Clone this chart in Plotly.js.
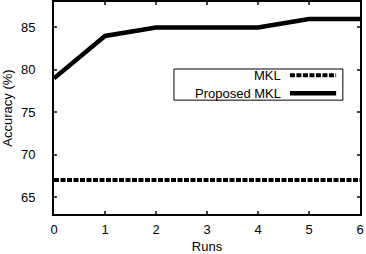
<!DOCTYPE html>
<html><head><meta charset="utf-8">
<script src="https://cdn.plot.ly/plotly-3.0.1.min.js"></script>
<style>html,body{margin:0;padding:0;background:#fff}#c{width:366px;height:254px}</style>
</head><body><div id="c"></div>
<script>
const runs = [0, 1, 2, 3, 4, 5, 6];
const mkl = [67, 67, 67, 67, 67, 67, 67];
const proposed = [79, 84, 85, 85, 85, 86, 86];
const seriesNames = ["MKL", "Proposed MKL"];
const xTicks = [0, 1, 2, 3, 4, 5, 6];
const yTicks = [65, 70, 75, 80, 85];

const F = "Liberation Sans, Arial, Helvetica, sans-serif";
const traces = [
  {x: runs, y: mkl, mode: "lines", name: seriesNames[0],
   line: {color: "#000", width: 4, dash: "5px,1.5px"}, cliponaxis: true},
  {x: runs, y: proposed, mode: "lines", name: seriesNames[1],
   line: {color: "#000", width: 4.5}, cliponaxis: true}
];
// custom gnuplot-style legend (text left, sample right)
const lgX0 = 0.392, lgX1 = 0.944, lgY0 = 0.537, lgY1 = 0.684;
const sx0 = 0.771, sx1 = 0.922, textX = 0.748;
const rowY = [0.655, 0.57];
const shapes = [
  {type: "rect", xref: "paper", yref: "paper", x0: lgX0, x1: lgX1, y0: lgY0, y1: lgY1,
   line: {color: "#000", width: 1}, fillcolor: "#fff", layer: "above"}
];
const annotations = [];
traces.forEach((t, i) => {
  shapes.push({type: "line", xref: "paper", yref: "paper", x0: sx0, x1: sx1, y0: rowY[i], y1: rowY[i],
    line: {color: "#000", width: t.line.width, dash: t.line.dash || "solid"}, layer: "above"});
  annotations.push({xref: "paper", yref: "paper", x: textX, y: rowY[i], text: t.name,
    showarrow: false, xanchor: "right", yanchor: "middle", font: {family: F, size: 13, color: "#000"}});
});
const layout = {
  width: 366, height: 254,
  margin: {l: 54, r: 6, t: 2, b: 40},
  paper_bgcolor: "#fff", plot_bgcolor: "#fff",
  showlegend: false,
  font: {family: F, size: 13, color: "#000"},
  xaxis: {range: [0, 6], tickvals: xTicks, ticks: "inside", ticklen: 3, tickwidth: 2,
    showline: true, linewidth: 2, linecolor: "#000", mirror: "ticks", showgrid: false, zeroline: false,
    ticklabelstandoff: 2,
    title: {text: "Runs", standoff: 18, font: {family: F, size: 13}}},
  yaxis: {range: [63, 88], tickvals: yTicks, ticks: "inside", ticklen: 3, tickwidth: 2,
    showline: true, linewidth: 2, linecolor: "#000", mirror: "ticks", showgrid: false, zeroline: false,
    ticklabelstandoff: 14,
    title: {text: "Accuracy (%)", standoff: 10, font: {family: F, size: 13}}},
  shapes: shapes,
  annotations: annotations
};
Plotly.newPlot("c", traces, layout, {staticPlot: true, displayModeBar: false});
</script></body></html>
